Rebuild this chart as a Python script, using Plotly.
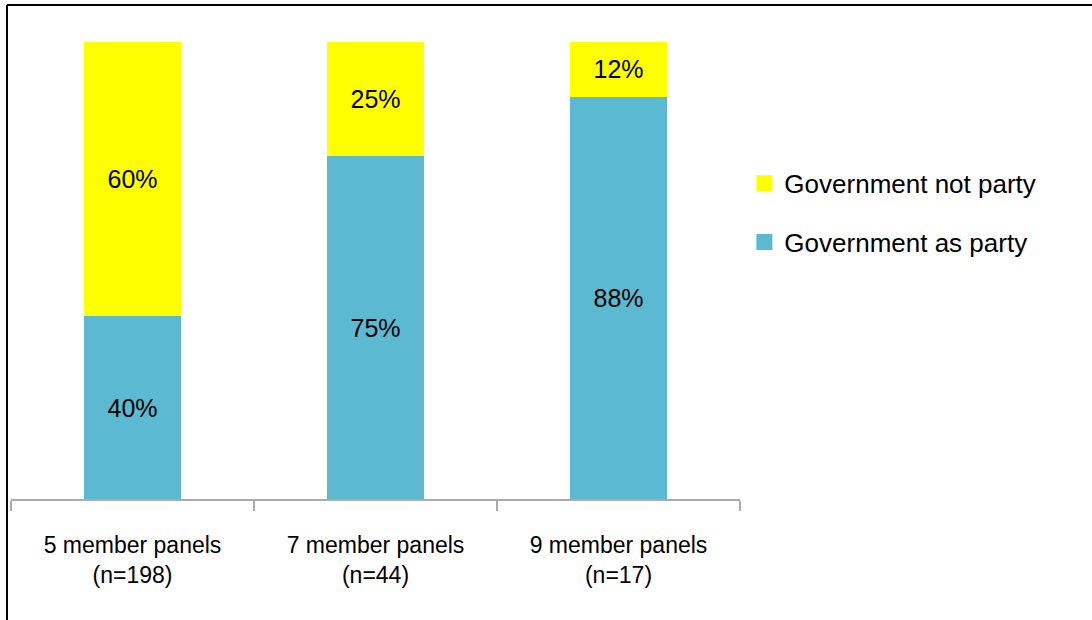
import plotly.graph_objects as go

categories = ["5 member panels<br>(n=198)", "7 member panels<br>(n=44)", "9 member panels<br>(n=17)"]
gov_as_party = [40, 75, 88]
gov_not_party = [60, 25, 12]
series_names = ["Government as party", "Government not party"]
colors = ["#5BB9D2", "#FFFF00"]

FONT = "Liberation Sans Narrow, Arial Narrow, Liberation Sans, Arial, sans-serif"

fig = go.Figure()
for name, vals, col in zip(series_names, [gov_as_party, gov_not_party], colors):
    fig.add_trace(go.Bar(
        x=categories, y=vals, name=name, marker=dict(color=col, line=dict(width=0)),
        text=[f"{v}%" for v in vals], textposition="inside", insidetextanchor="middle",
        textfont=dict(family=FONT, size=25, color="black"), constraintext="none",
        showlegend=False,
    ))

# legend entries (square markers)
for name, col in [(series_names[1], colors[1]), (series_names[0], colors[0])]:
    fig.add_trace(go.Scatter(
        x=[None], y=[None], mode="markers", name=name, legendgroup=name,
        marker=dict(symbol="square", size=17, color=col, line=dict(width=0)),
    ))

fig.update_layout(
    width=1092, height=620,
    margin=dict(l=11, r=352, t=42, b=121),
    barmode="stack", bargap=0.6,
    paper_bgcolor="white", plot_bgcolor="white",
    font=dict(family=FONT, color="black"),
    legend=dict(x=1.006, xanchor="left", y=0.742, yanchor="top",
                traceorder="grouped", tracegroupgap=22,
                font=dict(family=FONT, size=26, color="black"),
                bgcolor="rgba(0,0,0,0)"),
    xaxis=dict(type="category", showline=True, linecolor="#ABABAB", linewidth=2,
               ticks="outside", tickson="boundaries", ticklen=10, tickcolor="#ABABAB",
               tickwidth=2, showgrid=False, ticklabelstandoff=24,
               tickfont=dict(family=FONT, size=23, color="black")),
    yaxis=dict(range=[0, 100], visible=False, showgrid=False),
    shapes=[
        dict(type="line", xref="paper", yref="paper", x0=-0.0055, x1=-0.0055, y0=1.081, y1=-0.4,
             line=dict(color="black", width=2)),
        dict(type="line", xref="paper", yref="paper", x0=-0.0055, x1=1.6, y0=1.081, y1=1.081,
             line=dict(color="black", width=2)),
    ],
)

fig.write_html("out.html", config={"displayModeBar": False},
               post_script="document.body.style.margin='0';")
